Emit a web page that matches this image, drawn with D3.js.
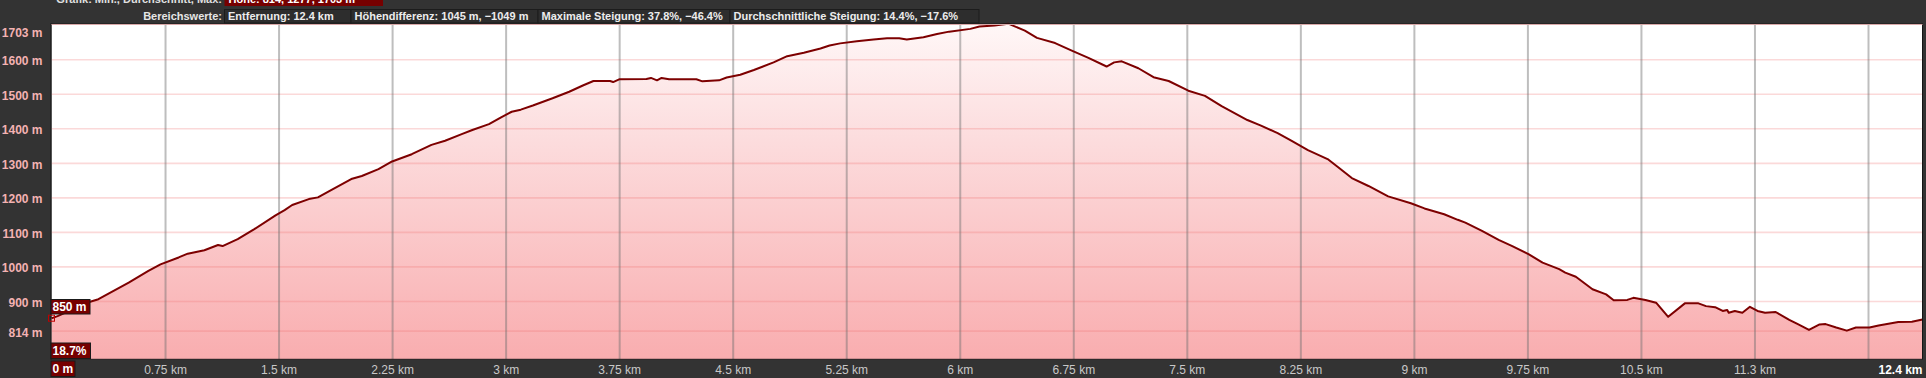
<!DOCTYPE html>
<html>
<head>
<meta charset="utf-8">
<script src="https://cdn.jsdelivr.net/npm/d3@7"></script>
<style>
  html, body { margin: 0; padding: 0; background: #333; }
  svg { display: block; }
</style>
</head>
<body>
<svg id="chart" width="1926" height="378"></svg>
<script>
// distance along the track (km) and elevation (m)
const distances = [0, 0.04, 0.25, 0.31, 0.51, 0.64, 0.72, 0.84, 0.90,
  1.01, 1.10, 1.13, 1.23, 1.34, 1.48, 1.54, 1.59, 1.70, 1.76,
  1.85, 1.98, 2.05, 2.16, 2.25, 2.38, 2.51, 2.60, 2.71, 2.78,
  2.89, 2.97, 3.04, 3.10, 3.18, 3.31, 3.42, 3.51, 3.58, 3.69,
  3.71, 3.75, 3.93, 3.96, 4.00, 4.03, 4.08, 4.26, 4.30, 4.41,
  4.46, 4.55, 4.64, 4.77, 4.86, 4.97, 5.08, 5.14, 5.21, 5.32,
  5.43, 5.52, 5.60, 5.65, 5.76, 5.85, 5.93, 6.07, 6.13, 6.23,
  6.32, 6.43, 6.51, 6.63, 6.74, 6.85, 6.97, 7.02, 7.07, 7.18,
  7.28, 7.38, 7.51, 7.62, 7.73, 7.90, 7.99, 8.10, 8.19, 8.30,
  8.43, 8.50, 8.59, 8.70, 8.83, 8.98, 9.07, 9.20, 9.29, 9.34,
  9.45, 9.56, 9.65, 9.76, 9.85, 9.96, 10.00, 10.07, 10.18, 10.27,
  10.32, 10.41, 10.45, 10.53, 10.60, 10.68, 10.79, 10.88, 10.93, 10.99,
  11.04, 11.07, 11.08, 11.12, 11.17, 11.22, 11.27, 11.32, 11.39, 11.48,
  11.54, 11.61, 11.68, 11.72, 11.79, 11.86, 11.92, 12.01, 12.07, 12.20,
  12.29, 12.36];

const elevations = [850, 856, 897, 905, 953, 987, 1006, 1026, 1037,
  1047, 1062, 1059, 1079, 1108, 1148, 1163, 1178, 1195, 1200,
  1222, 1253, 1262, 1282, 1304, 1325, 1352, 1364, 1383, 1395,
  1412, 1432, 1448, 1454, 1466, 1487, 1506, 1524, 1537, 1537,
  1534, 1542, 1543, 1546, 1539, 1546, 1542, 1542, 1536, 1539,
  1547, 1555, 1569, 1591, 1609, 1619, 1631, 1640, 1646, 1652,
  1657, 1661, 1661, 1657, 1664, 1673, 1680, 1688, 1695, 1698,
  1703, 1683, 1662, 1647, 1625, 1604, 1579, 1591, 1594, 1574,
  1548, 1537, 1509, 1494, 1464, 1424, 1408, 1386, 1364, 1337,
  1311, 1287, 1256, 1233, 1203, 1183, 1168, 1151, 1135, 1127,
  1103, 1077, 1059, 1035, 1011, 992, 982, 970, 934, 919,
  902, 903, 909, 903, 895, 854, 893, 893, 885, 882,
  871, 874, 866, 871, 866, 883, 871, 866, 868, 845,
  832, 816, 832, 833, 823, 814, 823, 823, 829, 839,
  840, 846];

const xTickValues = [0.75, 1.5, 2.25, 3, 3.75, 4.5, 5.25, 6, 6.75, 7.5, 8.25, 9, 9.75, 10.5, 11.25, 12];
const xTickLabels = ['0.75 km', '1.5 km', '2.25 km', '3 km', '3.75 km', '4.5 km', '5.25 km', '6 km',
  '6.75 km', '7.5 km', '8.25 km', '9 km', '9.75 km', '10.5 km', '11.3 km', ''];
const yTickValues = [814, 900, 1000, 1100, 1200, 1300, 1400, 1500, 1600, 1703];
const yTickLabels = ['814 m', '900 m', '1000 m', '1100 m', '1200 m', '1300 m', '1400 m', '1500 m', '1600 m', '1703 m'];

const headerTitle = 'Grafik: Min., Durchschnitt, Max:';
const headerStats = 'Höhe: 814, 1277, 1703 m';
const rangeTitle = 'Bereichswerte:';
const rangeStats = ['Entfernung: 12.4 km', 'Höhendifferenz: 1045 m, −1049 m',
  'Maximale Steigung: 37.8%, −46.4%', 'Durchschnittliche Steigung: 14.4%, −17.6%'];
const startLabels = ['850 m', '18.7%', '0 m'];
const endLabel = '12.4 km';

const plotLeft = 51.5, plotRight = 1922.5, plotTop = 23.7, plotBottom = 359.3;
const yMin = 731;

const svg = d3.select('#chart');
const font = '"Liberation Sans", Arial, sans-serif';

const x = d3.scaleLinear().domain([0, 12.36]).range([plotLeft, plotRight]);
const y = d3.scaleLinear().domain([yMin, 1703]).range([plotBottom, plotTop]);

const defs = svg.append('defs');
const grad = defs.append('linearGradient')
  .attr('id', 'fillGrad')
  .attr('gradientUnits', 'userSpaceOnUse')
  .attr('x1', 0).attr('x2', 0).attr('y1', plotTop).attr('y2', plotBottom);
grad.append('stop').attr('offset', 0).attr('stop-color', '#fff7f7');
grad.append('stop').attr('offset', 0.35).attr('stop-color', '#fcdcdd');
grad.append('stop').attr('offset', 1).attr('stop-color', '#f9adaf');

// plot background
svg.append('rect')
  .attr('x', plotLeft).attr('y', plotTop)
  .attr('width', plotRight - plotLeft).attr('height', plotBottom - plotTop)
  .attr('fill', '#fff');

const pts = distances.map((d, i) => [d, elevations[i]]);

// filled profile
svg.append('path')
  .datum(pts)
  .attr('fill', 'url(#fillGrad)')
  .attr('d', d3.area().x(d => x(d[0])).y0(y(yMin)).y1(d => y(d[1])));

// horizontal grid
const yGrid = svg.append('g')
  .attr('transform', `translate(${plotLeft},0)`)
  .call(d3.axisLeft(y).tickValues(yTickValues.slice(0, -1)).tickSize(-(plotRight - plotLeft)).tickFormat(''));
yGrid.select('.domain').remove();
yGrid.selectAll('line').attr('stroke', 'rgba(240,120,120,0.28)').attr('stroke-width', 1.6);

// vertical grid + distance labels
const xAxis = svg.append('g')
  .attr('transform', `translate(0,${plotTop})`)
  .call(d3.axisBottom(x).tickValues(xTickValues).tickSize(plotBottom - plotTop).tickPadding(6)
    .tickFormat((d, i) => xTickLabels[i]));
xAxis.select('.domain').remove();
xAxis.selectAll('line').attr('stroke', 'rgba(110,110,110,0.45)').attr('stroke-width', 2);
xAxis.selectAll('text')
  .attr('fill', '#c8c8c8')
  .style('font', `12px ${font}`);

// profile line
svg.append('path')
  .datum(pts)
  .attr('fill', 'none')
  .attr('stroke', '#7d0000')
  .attr('stroke-width', 2)
  .attr('stroke-linejoin', 'round')
  .attr('d', d3.line().x(d => x(d[0])).y(d => y(d[1])));

// frame
svg.append('rect')
  .attr('x', plotLeft - 0.5).attr('y', plotTop)
  .attr('width', plotRight - plotLeft + 0.5).attr('height', plotBottom - plotTop)
  .attr('fill', 'none').attr('stroke', '#151515').attr('stroke-width', 1);
svg.append('line')
  .attr('x1', plotLeft).attr('x2', plotRight).attr('y1', plotTop + 0.8).attr('y2', plotTop + 0.8)
  .attr('stroke', '#d9a9a9').attr('stroke-width', 1);

// elevation labels
const yAxis = svg.append('g')
  .attr('transform', `translate(${plotLeft},0)`)
  .call(d3.axisLeft(y).tickValues(yTickValues).tickSize(0).tickPadding(9)
    .tickFormat((d, i) => yTickLabels[i]));
yAxis.select('.domain').remove();
yAxis.selectAll('text')
  .attr('fill', '#f3b2b2')
  .attr('dy', d => d === 1703 ? '1.05em' : '0.45em')
  .style('font', `bold 12px ${font}`);

// start marker
svg.append('rect')
  .attr('x', x(distances[0]) - 3).attr('y', y(elevations[0]) - 3)
  .attr('width', 6).attr('height', 6)
  .attr('fill', 'none').attr('stroke', '#c00000').attr('stroke-width', 1);

// boxed labels at start
const boxes = [
  { x: 51, y: 299.5, w: 39, h: 14.5, t: startLabels[0] },
  { x: 51, y: 343, w: 39.5, h: 15.5, t: startLabels[1] },
  { x: 51, y: 361, w: 24, h: 15.5, t: startLabels[2] }
];
boxes.forEach(b => {
  svg.append('rect').attr('x', b.x).attr('y', b.y).attr('width', b.w).attr('height', b.h)
    .attr('fill', '#760000').attr('stroke', '#1a1a1a').attr('stroke-width', 1);
  svg.append('text').attr('x', b.x + 1.5).attr('y', b.y + b.h - 3.5)
    .attr('fill', '#fff').style('font', `bold 12px ${font}`).text(b.t);
});

// end distance label
svg.append('text')
  .attr('x', plotRight).attr('y', 373.5)
  .attr('text-anchor', 'end')
  .attr('fill', '#fff')
  .style('font', `bold 12px ${font}`)
  .text(endLabel);

// header, first row (cut off at the top)
svg.append('text')
  .attr('x', 222).attr('y', 3)
  .attr('text-anchor', 'end')
  .attr('fill', '#e0e0e0')
  .style('font', `bold 11px ${font}`)
  .text(headerTitle);
svg.append('rect').attr('x', 224.5).attr('y', -10).attr('width', 158.5).attr('height', 16)
  .attr('fill', '#760000');
svg.append('text')
  .attr('x', 228.5).attr('y', 3)
  .attr('fill', '#fff')
  .style('font', `bold 11px ${font}`)
  .text(headerStats);

// header, second row
svg.append('text')
  .attr('x', 222).attr('y', 20)
  .attr('text-anchor', 'end')
  .attr('fill', '#e6e6e6')
  .style('font', `bold 11px ${font}`)
  .text(rangeTitle);
const boxEdges = [224.5, 351, 538, 730, 979];
rangeStats.forEach((t, i) => {
  svg.append('rect')
    .attr('x', boxEdges[i]).attr('y', 9.5)
    .attr('width', boxEdges[i + 1] - boxEdges[i]).attr('height', 13.5)
    .attr('fill', '#2d2d2d').attr('stroke', '#1c1c1c').attr('stroke-width', 1);
});
rangeStats.forEach((t, i) => {
  svg.append('text')
    .attr('x', boxEdges[i] + 3.5).attr('y', 20)
    .attr('fill', '#ececec')
    .style('font', `bold 11px ${font}`)
    .text(t);
});
</script>
</body>
</html>
